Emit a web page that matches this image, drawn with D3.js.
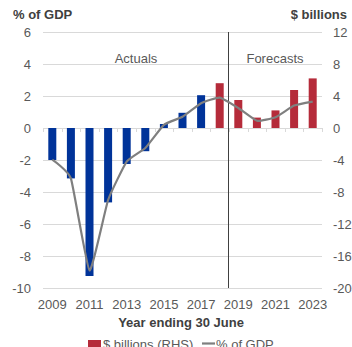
<!doctype html>
<html lang="en">
<head>
  <meta charset="utf-8">
  <title>Budget balance</title>
  <script src="https://d3js.org/d3.v7.min.js"></script>
  <style>
    body { margin: 0; background: #fff; }
    svg { display: block; font-family: "Liberation Sans", Arial, sans-serif; }
    .tick text { fill: #595959; font-size: 13px; }
  </style>
</head>
<body>
<div id="chart"></div>
<script>
  // data
  var years = ["2009","2010","2011","2012","2013","2014","2015","2016","2017","2018","2019","2020","2021","2022","2023"];
  var billions = [-4.0, -6.3, -18.5, -9.3, -4.5, -2.9, 0.5, 1.9, 4.1, 5.6, 3.5, 1.3, 2.2, 4.75, 6.2];
  var pctGdp = [-1.98, -3.15, -8.9, -4.5, -2.1, -1.25, 0.2, 0.7, 1.55, 1.9, 1.25, 0.45, 0.67, 1.4, 1.65];
  var lastBlue = "2017";
  var firstForecast = "2019";
  var leftTicks = [-10, -8, -6, -4, -2, 0, 2, 4, 6];
  var rightTicks = [-20, -16, -12, -8, -4, 0, 4, 8, 12];
  var yearLabels = ["2009","2011","2013","2015","2017","2019","2021","2023"];

  // plot box (note: "top" is taken by window.top, so p-prefixed names)
  var W = 352, H = 347;
  var pLeft = 43, pRight = 322, pTop = 32, pBottom = 288;

  var svg = d3.select("#chart").append("svg").attr("width", W).attr("height", H);

  var x = d3.scaleBand().domain(years).range([pLeft, pRight]).paddingInner(0.57).paddingOuter(0.285);
  var xb = d3.scaleBand().domain(years).range([pLeft, pRight]);
  var yL = d3.scaleLinear().domain([-10, 6]).range([pBottom, pTop]);
  var yR = d3.scaleLinear().domain([-20, 12]).range([pBottom, pTop]);

  // plain hyphen for negatives like the original, not the unicode minus
  var fmt = function(d) { return String(d); };

  // gridlines
  svg.append("g").selectAll("line").data(leftTicks).enter().append("line")
    .attr("x1", pLeft).attr("x2", pRight)
    .attr("y1", function(d) { return yL(d) + 0.5; }).attr("y2", function(d) { return yL(d) + 0.5; })
    .attr("stroke", "#d9d9d9").attr("stroke-width", 1);

  // left axis
  var la = svg.append("g").attr("transform", "translate(" + pLeft + ",0)")
    .call(d3.axisLeft(yL).tickValues(leftTicks).tickFormat(fmt).tickSize(0).tickPadding(12));
  la.select(".domain").remove();

  // right axis
  var ra = svg.append("g").attr("transform", "translate(" + pRight + ",0)")
    .call(d3.axisRight(yR).tickValues(rightTicks).tickFormat(fmt).tickSize(0).tickPadding(11));
  ra.select(".domain").remove();

  // little ticks on the zero line at category boundaries
  var edges = years.map(function(d) { return xb(d); }).concat([pRight]);
  svg.append("g").selectAll("line").data(edges).enter().append("line")
    .attr("x1", function(d) { return Math.round(d) + 0.5; }).attr("x2", function(d) { return Math.round(d) + 0.5; })
    .attr("y1", yL(0)).attr("y2", yL(0) + 4)
    .attr("stroke", "#d9d9d9");

  // bars ($ billions, right axis)
  svg.append("g").selectAll("rect").data(years).enter().append("rect")
    .attr("x", function(d) { return x(d); })
    .attr("width", x.bandwidth())
    .attr("y", function(d, i) { return Math.min(yR(billions[i]), yR(0)); })
    .attr("height", function(d, i) { return Math.abs(yR(billions[i]) - yR(0)); })
    .attr("fill", function(d) { return +d <= +lastBlue ? "#003399" : "#b52b3a"; });

  // actuals / forecasts divider
  var xd = Math.round(xb(firstForecast)) - 0.5;
  svg.append("line").attr("x1", xd).attr("x2", xd).attr("y1", pTop).attr("y2", pBottom)
    .attr("stroke", "#404040").attr("stroke-width", 1);

  // % of GDP line - only lightly smoothed, the dip at 2011 stays sharp
  var line = d3.line()
    .x(function(d, i) { return xb(years[i]) + xb.bandwidth() / 2; })
    .y(function(d) { return yL(d); })
    .curve(d3.curveCardinal.tension(0.6));
  svg.append("path").datum(pctGdp).attr("d", line)
    .attr("fill", "none").attr("stroke", "#7f7f7f").attr("stroke-width", 2.2);

  // x axis labels
  var xa = svg.append("g").attr("transform", "translate(0," + pBottom + ")")
    .call(d3.axisBottom(xb).tickValues(yearLabels).tickSize(0).tickPadding(12));
  xa.select(".domain").remove();

  // titles
  svg.append("text").attr("x", 13).attr("y", 18.5).text("% of GDP")
    .attr("font-size", 13).attr("font-weight", "bold").attr("fill", "#404040");
  svg.append("text").attr("x", 347).attr("y", 19).attr("text-anchor", "end").text("$ billions")
    .attr("font-size", 13).attr("font-weight", "bold").attr("fill", "#404040");
  svg.append("text").attr("x", 136).attr("y", 62.5).attr("text-anchor", "middle").text("Actuals")
    .attr("font-size", 13).attr("fill", "#595959");
  svg.append("text").attr("x", 275).attr("y", 62.5).attr("text-anchor", "middle").text("Forecasts")
    .attr("font-size", 13).attr("fill", "#595959");
  svg.append("text").attr("x", 181).attr("y", 326.5).attr("text-anchor", "middle").text("Year ending 30 June")
    .attr("font-size", 13).attr("font-weight", "bold").attr("fill", "#404040");

  // legend (runs off the bottom edge in the original too)
  var lg = svg.append("g");
  lg.append("rect").attr("x", 88).attr("y", 340).attr("width", 13).attr("height", 10).attr("fill", "#b52b3a");
  lg.append("text").attr("x", 103).attr("y", 348.5).text("$ billions (RHS)").attr("font-size", 13).attr("fill", "#595959");
  lg.append("line").attr("x1", 202).attr("x2", 215).attr("y1", 343.5).attr("y2", 343.5)
    .attr("stroke", "#7f7f7f").attr("stroke-width", 2.2);
  lg.append("text").attr("x", 216).attr("y", 348.5).text("% of GDP").attr("font-size", 13).attr("fill", "#595959");
</script>
</body>
</html>
